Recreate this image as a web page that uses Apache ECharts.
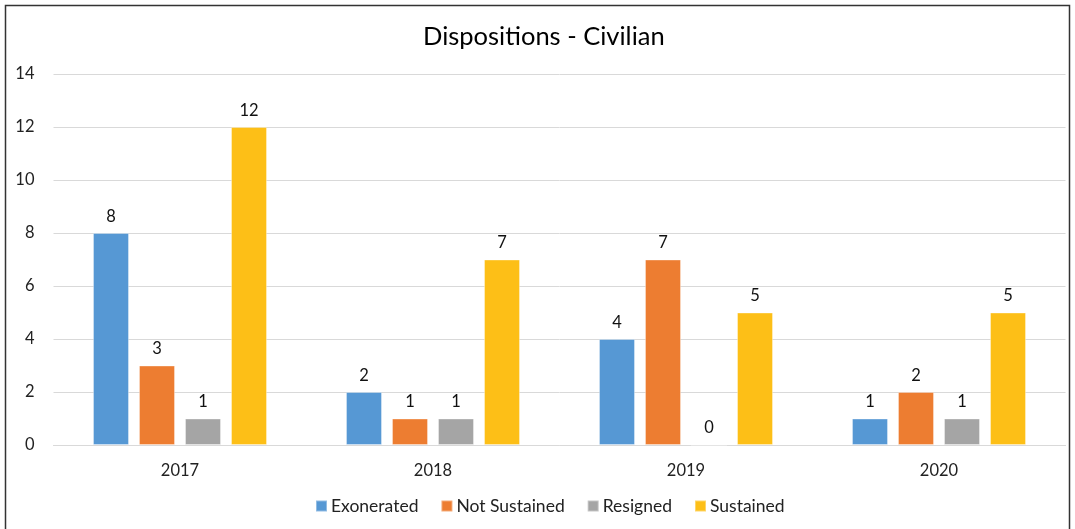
<!DOCTYPE html>
<html><head><meta charset="utf-8">
<script src="https://cdn.jsdelivr.net/npm/echarts@6/dist/echarts.min.js"></script>
<style>html,body{margin:0;padding:0;background:#fff}#c{width:1075px;height:529px}</style>
</head><body><div id="c"></div>
<script>
const categories = ['2017', '2018', '2019', '2020'];
const seriesNames = ['Exonerated', 'Not Sustained', 'Resigned', 'Sustained'];
const exonerated = [8, 2, 4, 1];
const notSustained = [3, 1, 7, 2];
const resigned = [1, 1, 0, 1];
const sustained = [12, 7, 5, 5];
const yTicks = [0, 2, 4, 6, 8, 10, 12, 14];

const colors = ['#5698D4', '#ED7D31', '#A5A5A5', '#FDBF17'];
const values = [exonerated, notSustained, resigned, sustained];
const FONT = 'Lato, "Open Sans", sans-serif';

const chart = echarts.init(document.getElementById('c'), null, {renderer: 'canvas'});
chart.setOption({
  animation: false,
  color: colors,
  textStyle: {fontFamily: FONT},
  title: {
    text: 'Dispositions - Civilian', left: 423, top: 24, padding: 0,
    textStyle: {fontFamily: FONT, fontSize: 25.5, fontWeight: 'normal', color: '#000'}
  },
  legend: {
    bottom: 9, left: 310, itemWidth: 11, itemHeight: 11, itemGap: 22,
    icon: 'rect',
    textStyle: {fontFamily: FONT, fontSize: 17.5, color: '#222', padding: [0, 0, 0, -1]},
    data: seriesNames
  },
  grid: {left: 53.5, right: 9.5, top: 74, bottom: 84, containLabel: false},
  xAxis: {
    type: 'category', data: categories,
    axisLine: {lineStyle: {color: '#d9d9d9', width: 1}},
    axisTick: {show: false},
    axisLabel: {fontFamily: FONT, fontSize: 16.5, color: '#222', margin: 17}
  },
  yAxis: {
    type: 'value', min: yTicks[0], max: yTicks[yTicks.length - 1], interval: 2,
    axisLine: {show: false}, axisTick: {show: false},
    splitLine: {lineStyle: {color: '#d9d9d9', width: 1}},
    axisLabel: {fontFamily: FONT, fontSize: 16.5, color: '#222', margin: 19}
  },
  graphic: [{
    type: 'rect', silent: true, z: 100,
    shape: {x: 5.5, y: 5.5, width: 1064, height: 600},
    style: {fill: 'none', stroke: '#333', lineWidth: 1.5}
  }],
  series: seriesNames.map((n, i) => ({
    name: n, type: 'bar', data: values[i],
    barWidth: 36, barGap: '27.8%',
    itemStyle: {color: colors[i], borderColor: 'rgba(255,255,255,0.35)', borderWidth: 1},
    label: {show: true, position: 'top', distance: 8, fontFamily: FONT, fontSize: 16.5, color: '#111'}
  }))
});
</script></body></html>
